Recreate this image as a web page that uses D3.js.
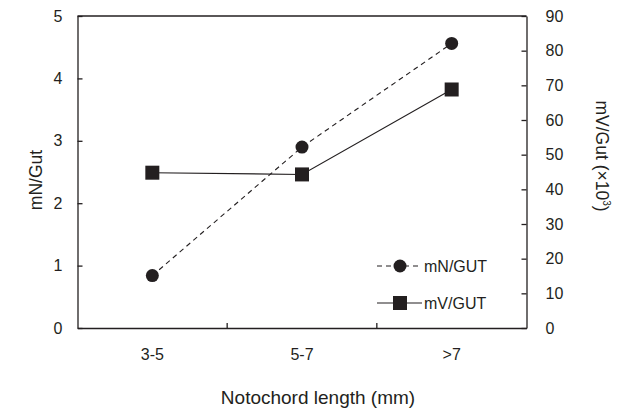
<!DOCTYPE html>
<html>
<head>
<meta charset="utf-8">
<script src="https://cdn.jsdelivr.net/npm/d3@7"></script>
<style>
  body { margin: 0; background: #fff; }
  text { font-family: "Liberation Sans", Arial, sans-serif; fill: #231f20; }
</style>
</head>
<body>
<div class="canvas"></div>
<script>
// data
const categories = ["3-5", "5-7", ">7"];
const mnValues = [0.84, 2.9, 4.56];
const mvValues = [44.8, 44.3, 68.8];
const leftTicks = [0, 1, 2, 3, 4, 5];
const rightTicks = [0, 10, 20, 30, 40, 50, 60, 70, 80, 90];

// margins and dimensions
const w = 622;
const h = 412;
const margin = { top: 16, right: 95.5, bottom: 84, left: 77.5 };
const graphWidth = w - margin.left - margin.right;
const graphHeight = h - margin.top - margin.bottom;
const ink = "#231f20";

const svg = d3.select(".canvas").append("svg").attr("width", w).attr("height", h);

const graph = svg
  .append("g")
  .attr("transform", `translate(${margin.left}, ${margin.top})`);

// scales
const x = d3.scaleBand().domain(categories).range([0, graphWidth]);
const yLeft = d3.scaleLinear().domain([0, 5]).range([graphHeight, 0]);
const yRight = d3.scaleLinear().domain([0, 90]).range([graphHeight, 0]);

// axes (ticks point inward)
const leftAxis = d3.axisLeft(yLeft).tickValues(leftTicks).tickFormat(d3.format("d"))
  .tickSizeInner(-5).tickSizeOuter(0).tickPadding(15);
const rightAxis = d3.axisRight(yRight).tickValues(rightTicks).tickFormat(d3.format("d"))
  .tickSizeInner(-5).tickSizeOuter(0).tickPadding(19);
const bottomAxis = d3.axisBottom(x).tickSize(0).tickPadding(21);

graph.append("g").attr("class", "axis").call(leftAxis);
graph.append("g").attr("class", "axis").attr("transform", `translate(${graphWidth}, 0)`).call(rightAxis);
graph.append("g").attr("class", "axis").attr("transform", `translate(0, ${graphHeight})`).call(bottomAxis);

// top frame line
graph.append("line").attr("x1", 0).attr("x2", graphWidth).attr("y1", 0).attr("y2", 0)
  .attr("stroke", ink).attr("stroke-width", 1.3);

// x ticks at band boundaries
graph.selectAll(".xtick")
  .data(categories.slice(1))
  .enter()
  .append("line")
  .attr("class", "xtick")
  .attr("x1", (d) => x(d)).attr("x2", (d) => x(d))
  .attr("y1", graphHeight).attr("y2", graphHeight - 5)
  .attr("stroke", ink).attr("stroke-width", 1.3);

svg.selectAll(".axis path, .axis line").attr("stroke", ink).attr("stroke-width", 1.3);
svg.selectAll(".axis text").attr("font-size", 16).attr("fill", ink)
  .attr("font-family", "'Liberation Sans', Arial, sans-serif");

// axis titles
svg.append("text")
  .attr("x", 318).attr("y", 404)
  .attr("text-anchor", "middle").attr("font-size", 19)
  .text("Notochord length (mm)");

svg.append("text")
  .attr("transform", "translate(42, 180) rotate(-90)")
  .attr("text-anchor", "middle").attr("font-size", 17.5)
  .text("mN/Gut");

const rTitle = svg.append("text")
  .attr("transform", "translate(596, 156) rotate(90)")
  .attr("text-anchor", "middle").attr("font-size", 17.5);
rTitle.append("tspan").text("mV/Gut (\u00d710");
rTitle.append("tspan").attr("font-size", 10).attr("dy", -7).text("3");
rTitle.append("tspan").attr("dy", 7).text(")");

// lines
const cx = (d, i) => x(categories[i]) + x.bandwidth() / 2;
const mnLine = d3.line().x(cx).y((d) => yLeft(d));
const mvLine = d3.line().x(cx).y((d) => yRight(d));

graph.append("path").datum(mnValues).attr("d", mnLine)
  .attr("fill", "none").attr("stroke", ink).attr("stroke-width", 1.1).attr("stroke-dasharray", "5,4");
graph.append("path").datum(mvValues).attr("d", mvLine)
  .attr("fill", "none").attr("stroke", ink).attr("stroke-width", 1.1);

graph.selectAll(".mn")
  .data(mnValues).enter().append("circle")
  .attr("class", "mn")
  .attr("cx", cx).attr("cy", (d) => yLeft(d)).attr("r", 6.5)
  .attr("fill", ink);

graph.selectAll(".mv")
  .data(mvValues).enter().append("rect")
  .attr("class", "mv")
  .attr("x", (d, i) => cx(d, i) - 7).attr("y", (d) => yRight(d) - 7)
  .attr("width", 14).attr("height", 14)
  .attr("fill", ink);

// legend
const legend = svg.append("g").attr("transform", "translate(377, 266)");
legend.append("line").attr("x1", 0).attr("x2", 45).attr("y1", 0).attr("y2", 0)
  .attr("stroke", ink).attr("stroke-width", 1.1).attr("stroke-dasharray", "5,4");
legend.append("circle").attr("cx", 23).attr("cy", 0).attr("r", 6.5).attr("fill", ink);
legend.append("text").attr("x", 47).attr("y", 0).attr("dy", "0.35em").attr("font-size", 16).text("mN/GUT");

legend.append("line").attr("x1", 0).attr("x2", 45).attr("y1", 37).attr("y2", 37)
  .attr("stroke", ink).attr("stroke-width", 1.1);
legend.append("rect").attr("x", 16).attr("y", 30).attr("width", 14).attr("height", 14).attr("fill", ink);
legend.append("text").attr("x", 47).attr("y", 37).attr("dy", "0.35em").attr("font-size", 16).text("mV/GUT");
</script>
</body>
</html>
